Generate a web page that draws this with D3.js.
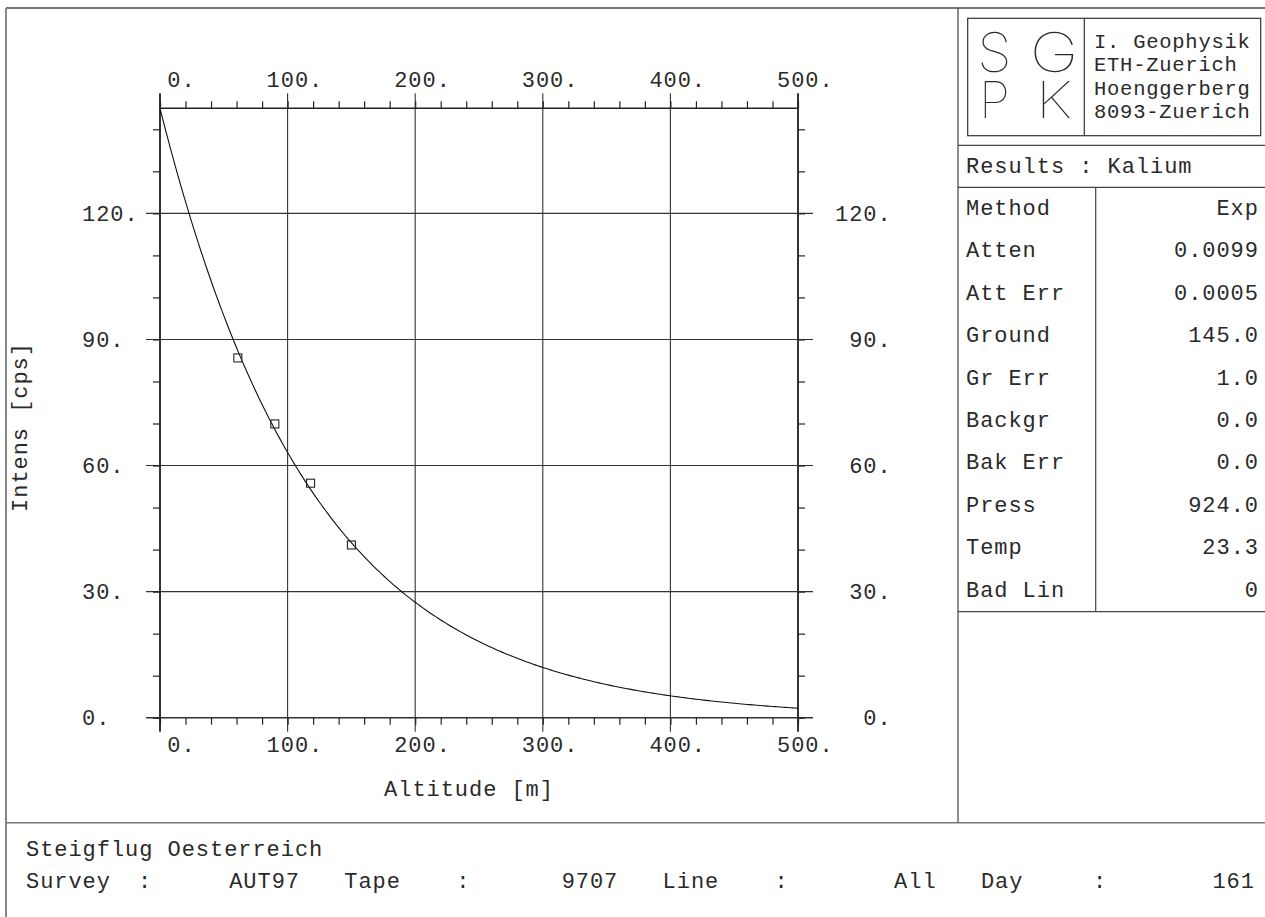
<!DOCTYPE html>
<html>
<head>
<meta charset="utf-8">
<script src="https://cdn.jsdelivr.net/npm/d3@7"></script>
<style>
  html, body { margin: 0; padding: 0; background: #fff; }
  svg { display: block; }
  text { font-family: "Liberation Mono", "DejaVu Sans Mono", monospace; fill: #2a2a2a; white-space: pre; }
</style>
</head>
<body>
<svg id="chart" width="1265" height="917"></svg>
<script>
// ---- data ----
const altitude  = [61, 90, 118, 150];          // m
const intensity = [85.6, 69.9, 55.8, 41.1];    // cps

const xTicks = [0, 100, 200, 300, 400, 500];
const yTicks = [0, 30, 60, 90, 120];

const xTitle = "Altitude [m]";
const yTitle = "Intens [cps]";

const logoColumns = [["S", "P"], ["G", "K"]];
const instituteLines = ["I. Geophysik", "ETH-Zuerich", "Hoenggerberg", "8093-Zuerich"];
const resultsTitle = "Results : Kalium";

const paramNames  = ["Method", "Atten", "Att Err", "Ground", "Gr Err", "Backgr", "Bak Err", "Press", "Temp", "Bad Lin"];
const paramValues = ["Exp", "0.0099", "0.0005", "145.0", "1.0", "0.0", "0.0", "924.0", "23.3", "0"];

const flightTitle = "Steigflug Oesterreich";
const footerLabels = ["Survey", "Tape", "Line", "Day"];
const footerValues = ["AUT97", "9707", "All", "161"];

// ---- fitted attenuation curve: I(h) = Ground * exp(-Atten * h_stp) + Backgr
// altitude reduced to standard air density with the recorded pressure / temperature
const param = Object.fromEntries(paramNames.map((n, i) => [n, +paramValues[i]]));
const densityFactor = (param["Press"] / 1013.25) * (273.15 / (273.15 + param["Temp"]));
const model = h => param["Ground"] * Math.exp(-param["Atten"] * h * densityFactor) + param["Backgr"];

// ---- layout ----
const svg = d3.select("#chart");
const W = 1265;
const plot = { left: 160, right: 798, top: 108.3, bottom: 717.7 };
const x = d3.scaleLinear().domain([0, 500]).range([plot.left, plot.right]);
const y = d3.scaleLinear().domain([0, 145]).range([plot.bottom, plot.top]);

const FS = 22;        // main mono font size
const LS = 0.95;      // extra letter spacing -> ~14.15 px per character

function line(g, x1, y1, x2, y2, stroke, w) {
  g.append("line").attr("x1", x1).attr("y1", y1).attr("x2", x2).attr("y2", y2)
    .attr("stroke", stroke).attr("stroke-width", w);
}
function text(g, str, tx, ty, opts = {}) {
  const ls = opts.ls !== undefined ? opts.ls : LS;
  const anchor = opts.anchor || "start";
  return g.append("text")
    .attr("x", anchor === "end" ? tx + ls : tx).attr("y", ty)
    .attr("font-size", opts.size || FS)
    .attr("letter-spacing", ls)
    .attr("text-anchor", anchor)
    .text(str);
}

// ---- page frame ----
const frame = svg.append("g");
line(frame, 6, 8, W, 8, "#777", 2);
line(frame, 6, 8, 6, 917, "#888", 2);
line(frame, 6, 822.7, W, 822.7, "#777", 1.6);
line(frame, 958, 8, 958, 822.7, "#444", 1.2);

// ---- plot ----
const g = svg.append("g");

// horizontal grid lines (major y), extended past both axes
yTicks.forEach(v => line(g, plot.left - 14, y(v), plot.right + 15, y(v), "#333", v === 0 ? 1.6 : 1.1));
// vertical grid lines (major x), extended above and below
xTicks.forEach(v => line(g, x(v), plot.top - 15, x(v), plot.bottom + 14, "#333", (v === 0 || v === 500) ? 2 : 1.1));
// top frame line
line(g, plot.left, plot.top, plot.right, plot.top, "#222", 1.4);

// minor ticks via d3 axes
const yMinor = d3.range(0, 146, 10);
const xMinor = d3.range(0, 501, 20);
function styleAxis(sel) {
  sel.select(".domain").remove();
  sel.selectAll(".tick line").attr("stroke", "#222").attr("stroke-width", 1.2);
  sel.selectAll(".tick text").remove();
}
g.append("g").attr("transform", `translate(${plot.left},0)`)
  .call(d3.axisLeft(y).tickValues(yMinor).tickSize(7)).call(styleAxis);
g.append("g").attr("transform", `translate(${plot.right},0)`)
  .call(d3.axisRight(y).tickValues(yMinor).tickSize(7)).call(styleAxis);
g.append("g").attr("transform", `translate(0,${plot.top})`)
  .call(d3.axisTop(x).tickValues(xMinor).tickSize(7)).call(styleAxis);
g.append("g").attr("transform", `translate(0,${plot.bottom})`)
  .call(d3.axisBottom(x).tickValues(xMinor).tickSize(7)).call(styleAxis);

// tick labels
const fmt = v => (v + ".");
xTicks.forEach(v => {
  text(g, fmt(v).padStart(4, " "), x(v) - 21, 87);
  text(g, fmt(v).padStart(4, " "), x(v) - 21, 752);
});
yTicks.forEach(v => {
  text(g, fmt(v), 82, y(v) + 7.5);
  text(g, fmt(v).padStart(4, " "), 835, y(v) + 7.5);
});

// axis titles
text(g, xTitle, 469, 796, { anchor: "middle" });
g.append("text").attr("transform", `translate(27,${427}) rotate(-90)`)
  .attr("font-size", FS).attr("letter-spacing", LS).attr("text-anchor", "middle").text(yTitle);

// fitted curve
const hs = d3.range(0, 500.001, 2);
g.append("path")
  .datum(hs)
  .attr("fill", "none").attr("stroke", "#111").attr("stroke-width", 1.1)
  .attr("d", d3.line().x(h => x(h)).y(h => y(model(h))));

// measured points
const S = 8;
g.selectAll("rect.pt").data(altitude).join("rect")
  .attr("class", "pt")
  .attr("x", (d) => x(d) - S / 2)
  .attr("y", (d, i) => y(intensity[i]) - S / 2)
  .attr("width", S).attr("height", S)
  .attr("fill", "none").attr("stroke", "#222").attr("stroke-width", 1.1);

// ---- right panel: logo ----
const p = svg.append("g");
p.append("rect").attr("x", 967.7).attr("y", 18.3).attr("width", 293).attr("height", 117.4)
  .attr("fill", "none").attr("stroke", "#333").attr("stroke-width", 1.2);
line(p, 1084.3, 18.3, 1084.3, 135.7, "#333", 1.2);

// hairline logo letters, one text element per column
const columnX = [994.5, 1054];
const columnStretch = [1.02, 1.2];
logoColumns.forEach((letters, c) => {
  const t = p.append("text")
    .attr("transform", `translate(${columnX[c]},0) scale(${columnStretch[c]},1)`)
    .attr("font-weight", 100)
    .attr("text-anchor", "middle")
    .style("font-family", "Inter, 'Noto Sans', sans-serif");
  t.append("tspan").attr("x", 0).attr("y", 72).attr("font-size", 55).text(letters[0]);
  t.append("tspan").attr("x", 0).attr("y", 118).attr("font-size", 50).text(letters[1]);
});
instituteLines.forEach((s, i) => text(p, s, 1094, [47.5, 71, 94.5, 118][i], { size: 20.5, ls: 0.75 }));

line(p, 958, 145.3, W, 145.3, "#444", 1.2);
text(p, resultsTitle, 966, 172.5);
line(p, 958, 187.3, W, 187.3, "#444", 1.2);

// parameter table
line(p, 1095.7, 187.3, 1095.7, 611.7, "#444", 1.2);
line(p, 958, 611.7, W, 611.7, "#444", 1.2);
paramNames.forEach((n, i) => {
  const cy = 207.5 + i * 42.4;
  text(p, n, 966, cy + 7.5);
  text(p, paramValues[i], 1258, cy + 7.5, { anchor: "end" });
});

// ---- footer ----
const f = svg.append("g");
text(f, flightTitle, 26, 855.5);
footerLabels.forEach((lab, i) => {
  const x0 = 26 + i * 318.3;
  text(f, lab, x0, 887.5);
  text(f, ":", x0 + 112, 887.5);
  text(f, footerValues[i], x0 + 273, 887.5, { anchor: "end" });
});
</script>
</body>
</html>
